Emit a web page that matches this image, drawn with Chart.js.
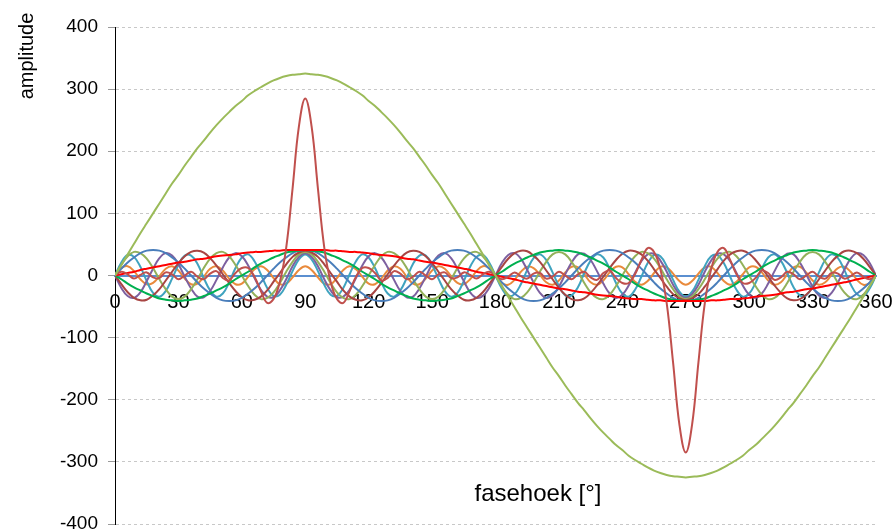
<!DOCTYPE html>
<html>
<head>
<meta charset="utf-8">
<script src="https://cdn.jsdelivr.net/npm/chart.js@4.4.1/dist/chart.umd.min.js"></script>
<style>
  html, body { margin: 0; padding: 0; background: #ffffff; }
  canvas { display: block; }
</style>
</head>
<body>
<canvas id="c" width="895" height="532"></canvas>
<script>
// phase angle in degrees (shared x grid, 3 degree steps)
const degrees = [];
for (let d = 0; d <= 360; d += 3) degrees.push(d);

const xTicks = [0, 30, 60, 90, 120, 150, 180, 210, 240, 270, 300, 330, 360];
const yTicks = [-400, -300, -200, -100, 0, 100, 200, 300, 400];

// mains voltage
const voltage = [
  0,17,34,51,68,84,100,116,132,148,162,177,191,205,217,230,242,253,263,273,281,290,297,303,309,314,318,321,323,324,325,
  324,323,321,318,314,309,303,297,290,281,273,263,253,242,230,217,205,191,177,162,148,132,116,100,84,68,51,34,17,0,
  -17,-34,-51,-68,-84,-100,-116,-132,-148,-162,-177,-191,-205,-217,-230,-242,-253,-263,-273,-281,-290,-297,-303,-309,-314,-318,-321,-323,-324,-325,
  -324,-323,-321,-318,-314,-309,-303,-297,-290,-281,-273,-263,-253,-242,-230,-217,-205,-191,-177,-162,-148,-132,-116,-100,-84,-68,-51,-34,-17,0
];

// resulting current pulse
const pulse = [
  0,6,2,-5,1,5,-3,-4,5,2,-6,0,6,-2,-6,3,7,-4,-8,4,12,12,-2,-25,-44,-38,-10,45,140,240,285,
  240,140,45,-10,-38,-44,-25,-2,12,12,4,-8,-4,7,3,-6,-2,6,0,-6,2,5,-4,-3,5,1,-5,2,6,0,
  -6,-2,5,-1,-5,3,4,-5,-2,6,0,-6,2,6,-3,-7,4,8,-4,-12,-12,2,25,44,38,10,-45,-140,-240,-285,
  -240,-140,-45,10,38,44,25,2,-12,-12,-4,8,4,-7,-3,6,2,-6,0,6,-2,-5,4,3,-5,-1,5,-2,-6,0
];

// harmonics
const h1 = [
  0,2,4,6,9,11,13,15,17,19,21,22,24,26,27,29,31,32,33,34,36,37,38,38,39,40,40,41,41,41,41,
  41,41,41,40,40,39,38,38,37,36,34,33,32,31,29,27,26,24,22,21,19,17,15,13,11,9,6,4,2,0,
  -2,-4,-6,-9,-11,-13,-15,-17,-19,-21,-22,-24,-26,-27,-29,-31,-32,-33,-34,-36,-37,-38,-38,-39,-40,-40,-41,-41,-41,-41,
  -41,-41,-41,-40,-40,-39,-38,-38,-37,-36,-34,-33,-32,-31,-29,-27,-26,-24,-22,-21,-19,-17,-15,-13,-11,-9,-6,-4,-2,0
];

const h3 = [
  0,-6,-13,-19,-24,-29,-33,-37,-39,-40,-41,-40,-39,-37,-33,-29,-24,-19,-13,-6,0,6,13,19,24,29,33,37,39,40,41,
  40,39,37,33,29,24,19,13,6,0,-6,-13,-19,-24,-29,-33,-37,-39,-40,-41,-40,-39,-37,-33,-29,-24,-19,-13,-6,0,
  6,13,19,24,29,33,37,39,40,41,40,39,37,33,29,24,19,13,6,0,-6,-13,-19,-24,-29,-33,-37,-39,-40,-41,
  -40,-39,-37,-33,-29,-24,-19,-13,-6,0,6,13,19,24,29,33,37,39,40,41,40,39,37,33,29,24,19,13,6,0
];

const h5 = [
  0,11,21,29,36,40,41,40,36,29,21,11,0,-11,-21,-29,-36,-40,-41,-40,-36,-29,-21,-11,0,11,21,29,36,40,41,
  40,36,29,21,11,0,-11,-21,-29,-36,-40,-41,-40,-36,-29,-21,-11,0,11,21,29,36,40,41,40,36,29,21,11,0,
  -11,-21,-29,-36,-40,-41,-40,-36,-29,-21,-11,0,11,21,29,36,40,41,40,36,29,21,11,0,-11,-21,-29,-36,-40,-41,
  -40,-36,-29,-21,-11,0,11,21,29,36,40,41,40,36,29,21,11,0,-11,-21,-29,-36,-40,-41,-40,-36,-29,-21,-11,0
];

const h7 = [
  0,-14,-27,-36,-40,-39,-32,-22,-8,6,20,31,38,40,37,28,16,2,-12,-25,-35,-40,-39,-34,-24,-10,4,18,30,37,40,
  37,30,18,4,-10,-24,-34,-39,-40,-35,-25,-12,2,16,28,37,40,38,31,20,6,-8,-22,-32,-39,-40,-36,-27,-14,0,
  14,27,36,40,39,32,22,8,-6,-20,-31,-38,-40,-37,-28,-16,-2,12,25,35,40,39,34,24,10,-4,-18,-30,-37,-40,
  -37,-30,-18,-4,10,24,34,39,40,35,25,12,-2,-16,-28,-37,-40,-38,-31,-20,-6,8,22,32,39,40,36,27,14,0
];

const h9 = [
  0,17,31,38,36,27,12,-6,-22,-34,-38,-34,-22,-6,12,27,36,38,31,17,0,-17,-31,-38,-36,-27,-12,6,22,34,38,
  34,22,6,-12,-27,-36,-38,-31,-17,0,17,31,38,36,27,12,-6,-22,-34,-38,-34,-22,-6,12,27,36,38,31,17,0,
  -17,-31,-38,-36,-27,-12,6,22,34,38,34,22,6,-12,-27,-36,-38,-31,-17,0,17,31,38,36,27,12,-6,-22,-34,-38,
  -34,-22,-6,12,27,36,38,31,17,0,-17,-31,-38,-36,-27,-12,6,22,34,38,34,22,6,-12,-27,-36,-38,-31,-17,0
];

const h11 = [
  0,-20,-33,-36,-27,-9,11,28,36,32,18,-2,-21,-34,-35,-25,-7,13,29,36,31,16,-4,-23,-34,-35,-24,-6,15,30,36,
  30,15,-6,-24,-35,-34,-23,-4,16,31,36,29,13,-7,-25,-35,-34,-21,-2,18,32,36,28,11,-9,-27,-36,-33,-20,0,
  20,33,36,27,9,-11,-28,-36,-32,-18,2,21,34,35,25,7,-13,-29,-36,-31,-16,4,23,34,35,24,6,-15,-30,-36,
  -30,-15,6,24,35,34,23,4,-16,-31,-36,-29,-13,7,25,35,34,21,2,-18,-32,-36,-28,-11,9,27,36,33,20,0
];

const h13 = [
  0,21,33,30,14,-9,-28,-34,-25,-5,17,32,32,19,-4,-24,-34,-29,-11,12,29,34,23,2,-20,-33,-31,-15,7,26,34,
  26,7,-15,-31,-33,-20,2,23,34,29,12,-11,-29,-34,-24,-4,19,32,32,17,-5,-25,-34,-28,-9,14,30,33,21,0,
  -21,-33,-30,-14,9,28,34,25,5,-17,-32,-32,-19,4,24,34,29,11,-12,-29,-34,-23,-2,20,33,31,15,-7,-26,-34,
  -26,-7,15,31,33,20,-2,-23,-34,-29,-12,11,29,34,24,4,-19,-32,-32,-17,5,25,34,28,9,-14,-30,-33,-21,0
];

const h17 = [
  0,12,15,7,-6,-14,-12,-1,11,15,8,-5,-14,-13,-2,11,15,8,-5,-14,-13,-2,10,15,9,-4,-14,-13,-3,9,15,
  9,-3,-13,-14,-4,9,15,10,-2,-13,-14,-5,8,15,11,-2,-13,-14,-5,8,15,11,-1,-12,-14,-6,7,15,12,0,
  -12,-15,-7,6,14,12,1,-11,-15,-8,5,14,13,2,-11,-15,-8,5,14,13,2,-10,-15,-9,4,14,13,3,-9,-15,
  -9,3,13,14,4,-9,-15,-10,2,13,14,5,-8,-15,-11,2,13,14,5,-8,-15,-11,1,12,14,6,-7,-15,-12,0
];

const xTitle = 'fasehoek [°]';
const yTitle = 'amplitude';
const FONT = '"Liberation Sans", Arial, sans-serif';

function series(values, color) {
  return {
    data: degrees.map((d, i) => ({ x: d, y: values[i] })),
    borderColor: color,
    borderWidth: 2,
    pointRadius: 0,
    tension: 0.4,
    fill: false
  };
}

const titles = {
  id: 'titles',
  afterDraw(chart) {
    const ctx = chart.ctx;
    ctx.save();
    ctx.fillStyle = '#000';
    ctx.textAlign = 'center';
    ctx.textBaseline = 'middle';
    ctx.font = '24px ' + FONT;
    ctx.fillText(xTitle, 538, 494);
    ctx.translate(27, 56);
    ctx.rotate(-Math.PI / 2);
    ctx.font = '20px ' + FONT;
    ctx.fillText(yTitle, 0, 0);
    ctx.restore();
  }
};

new Chart(document.getElementById('c'), {
  type: 'line',
  data: {
    datasets: [
      series(voltage, '#9BBB59'),
      series(pulse, '#C0504D'),
      series(h1, '#FF0000'),
      series(h3, '#00B050'),
      series(h5, '#4A7EBB'),
      series(h7, '#A84543'),
      series(h9, '#93B15A'),
      series(h11, '#7D60A0'),
      series(h13, '#3FA3BF'),
      series(h17, '#E98A3C')
    ]
  },
  options: {
    responsive: false,
    animation: false,
    events: [],
    layout: { padding: { left: 0, right: 19, top: 27, bottom: 8 } },
    plugins: { legend: { display: false }, tooltip: { enabled: false } },
    scales: {
      x: {
        type: 'linear',
        min: 0, max: 360,
        position: { y: 0 },
        afterBuildTicks: (s) => { s.ticks = xTicks.map(v => ({ value: v })); },
        afterFit: (s) => { s.paddingLeft = 0; s.paddingRight = 0; },
        ticks: { color: '#000', font: { size: 20, family: FONT }, padding: 15, maxRotation: 0, autoSkip: false },
        grid: { display: false, drawTicks: false },
        border: { display: true, color: '#5B8FD0', width: 2 }
      },
      y: {
        type: 'linear',
        min: -400, max: 400,
        afterBuildTicks: (s) => { s.ticks = yTicks.map(v => ({ value: v })); },
        afterFit: (s) => { s.width = 115; s.paddingTop = 0; s.paddingBottom = 0; },
        ticks: { color: '#000', font: { size: 19, family: FONT }, padding: 10 },
        grid: { color: '#C8C8C8', lineWidth: 1, tickLength: 7, tickColor: '#9A9A9A', tickBorderDash: [] },
        border: { display: true, color: '#000', width: 1, dash: [3, 3] }
      }
    }
  },
  plugins: [titles]
});
</script>
</body>
</html>
